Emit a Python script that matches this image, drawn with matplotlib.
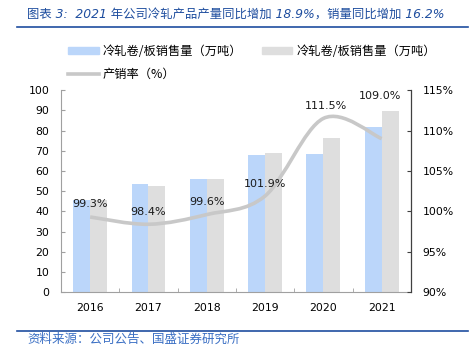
import matplotlib
matplotlib.use("Agg")
import matplotlib.pyplot as plt
from matplotlib.path import Path
from matplotlib.patches import PathPatch, Patch
from matplotlib.lines import Line2D
import numpy as np

plt.rcParams['font.family'] = ['DejaVu Sans', 'Noto Sans CJK SC']

years = ['2016', '2017', '2018', '2019', '2020', '2021']
production = [45.7, 53.6, 56.2, 67.8, 68.2, 81.7]
sales = [45.4, 52.7, 56.0, 69.0, 76.3, 89.5]
ratio = [99.3, 98.4, 99.6, 101.9, 111.5, 109.0]
ratio_labels = ['99.3%', '98.4%', '99.6%', '101.9%', '111.5%', '109.0%']

legend_bar1 = '冷轧卷/板销售量（万吨）'
legend_bar2 = '冷轧卷/板销售量（万吨）'
legend_line = '产销率（%）'
title = '图表 3:  2021 年公司冷轧产品产量同比增加 18.9%，销量同比增加 16.2%'
source = '资料来源：公司公告、国盛证券研究所'

BLUE = '#bbd6fa'
GREY = '#dedede'
LINE = '#c8c8c8'
NAVY = '#1f4e9f'
CJK = ['Noto Sans CJK SC', 'DejaVu Sans']


def smooth_path(xs, ys):
    # cubic bezier through the points (Catmull-Rom style control points)
    pts = list(zip(xs, ys))
    n = len(pts)
    verts = [pts[0]]
    codes = [Path.MOVETO]
    for i in range(n - 1):
        p0 = pts[i - 1] if i > 0 else pts[i]
        p1 = pts[i]
        p2 = pts[i + 1]
        p3 = pts[i + 2] if i + 2 < n else pts[i + 1]
        c1 = (p1[0] + (p2[0] - p0[0]) / 6, p1[1] + (p2[1] - p0[1]) / 6)
        c2 = (p2[0] - (p3[0] - p1[0]) / 6, p2[1] - (p3[1] - p1[1]) / 6)
        verts += [c1, c2, p2]
        codes += [Path.CURVE4] * 3
    return Path(verts, codes)


def main():
    fig = plt.figure(figsize=(4.69, 3.62), dpi=100)
    ax = fig.add_axes([0.130, 0.193, 0.746, 0.558])
    ax2 = ax.twinx()

    x = np.arange(len(years))
    w = 0.29
    ax.bar(x - w / 2, production, width=w, color=BLUE, zorder=2)
    ax.bar(x + w / 2, sales, width=w, color=GREY, zorder=2)
    ax.set_xlim(-0.5, len(years) - 0.5)
    ax.set_ylim(0, 100)
    ax.set_yticks(range(0, 101, 10))
    ax.set_xticks(x)
    ax.set_xticklabels(years)
    ax.set_xticks(np.arange(-0.5, len(years)), minor=True)
    ax.tick_params(axis='x', which='major', length=0, pad=8, labelsize=7.8)
    ax.tick_params(axis='x', which='minor', length=3, direction='in', color='#a0a0a0')
    ax.tick_params(axis='y', length=3, direction='in', color='#a0a0a0', pad=8.5, labelsize=7.8)

    ax2.set_ylim(90, 115)
    ax2.set_yticks(range(90, 116, 5))
    ax2.set_yticklabels([f'{v}%' for v in range(90, 116, 5)])
    ax2.tick_params(axis='y', length=3, direction='in', color='#404040', pad=8.5, labelsize=7.8)
    ax2.add_patch(PathPatch(smooth_path(x, ratio), fill=False, edgecolor=LINE,
                            linewidth=2.6, capstyle='butt', zorder=3))

    offsets = [(0, 9), (0, 8.6), (0, 8.7), (0, 8.4), (1.5, 9), (-1.5, 31)]
    for xi, yi, lab, off in zip(x, ratio, ratio_labels, offsets):
        ax2.annotate(lab, (xi, yi), xytext=off, textcoords='offset points',
                     ha='center', va='center', fontsize=8, color='#1a1a1a')

    for a in (ax, ax2):
        a.spines['top'].set_visible(False)
    ax.spines['left'].set_color('#a0a0a0')
    ax.spines['bottom'].set_color('#a0a0a0')
    ax2.spines['left'].set_visible(False)
    ax2.spines['bottom'].set_visible(False)
    ax2.spines['right'].set_color('#404040')
    ax2.set_zorder(ax.get_zorder() + 1)
    ax2.patch.set_visible(False)

    # column-major fill: bar1 / line in column 1, bar2 in column 2
    handles = [Patch(color=BLUE), Line2D([], [], color=LINE, linewidth=2.6),
               Patch(color=GREY)]
    fig.legend(handles, [legend_bar1, legend_line, legend_bar2], ncol=2,
               loc='upper left', bbox_to_anchor=(0.145, 0.875), frameon=False,
               borderpad=0, borderaxespad=0,
               prop={'family': CJK, 'size': 8.8}, handlelength=2.5,
               handleheight=0.5, columnspacing=1.6, labelspacing=0.75,
               handletextpad=0.35)

    fig.text(0.058, 0.961, title, ha='left', va='center', fontsize=8.9,
             color=NAVY, style='italic')
    fig.add_artist(Line2D([0.036, 0.998], [0.925, 0.925], color=NAVY, linewidth=1.2))
    fig.add_artist(Line2D([0.036, 0.998], [0.086, 0.086], color=NAVY, linewidth=1.2))
    fig.text(0.058, 0.063, source, ha='left', va='center', fontsize=9,
             color='#3a6fc4', family=CJK, style='italic')

    fig.savefig('out.png', dpi=100)
    plt.close(fig)


if __name__ == "__main__":
    main()
